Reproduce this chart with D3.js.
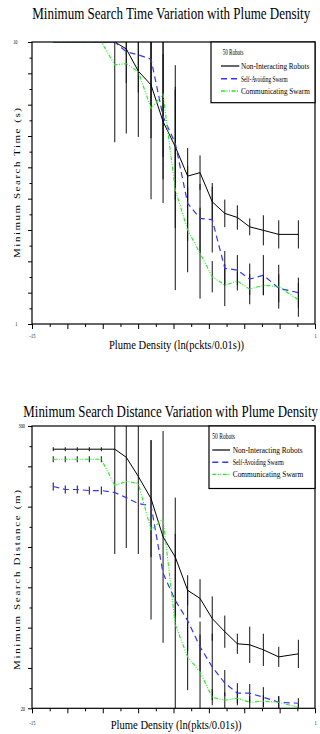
<!DOCTYPE html>
<html>
<head>
<meta charset="utf-8">
<script src="https://cdn.jsdelivr.net/npm/d3@7"></script>
<style>
  html, body { margin: 0; padding: 0; background: #fff; }
  svg { display: block; font-family: "Liberation Serif", "Times New Roman", serif; }
</style>
</head>
<body>
<svg id="chart" width="320" height="734"></svg>
<script>
// Plume density, ln(packets/0.01s) - same sample points in both panels
const plumeDensity = [-13.8, -13.12, -12.44, -11.76, -11.08, -10.32, -9.67, -8.99, -8.27, -7.59,
  -6.9, -6.2, -5.5, -4.81, -4.1, -3.39, -2.69, -1.92, -1.05, 0.06];

const seriesNames = ['Non-Interacting Robots', 'Self-Avoiding Swarm', 'Communicating Swarm'];

// Minimum search time (s)
const timeNonInteracting = [10, 10, 10, 10, 10, 10, 9.78, 9.07, 8.63, 7.46, 6.66, 5.72, 5.83, 4.9, 4.53, 4.4, 4.1, 3.99, 3.86, 3.86];
const timeNonInteractingErr = [0, 0, 0, 0, 0, 3.2, 2.7, 2.1, 1.7, 2.6, 2.6, 0.9, 0.55, 0.6, 0.44, 0.39, 0.27, 0.48, 0.45, 0.45];
const timeSelfAvoiding = [10, 10, 10, 10, 10, 10, 9.69, 9.59, 9.45, 7.62, 6.77, 4.85, 4.37, 4.33, 2.78, 2.72, 2.43, 2.56, 2.14, 2.0];
const timeSelfAvoidingErr = [0, 0, 0, 0, 0, 0, 1.0, 1.2, 1.5, 2.0, 1.8, 1.2, 1.1, 1.05, 0.55, 0.48, 0.5, 0.64, 0.45, 0.48];
const timeCommunicating = [10, 10, 10, 10, 10, 9.27, 9.31, 9.05, 7.88, 8.33, 5.28, 4.0, 3.26, 2.51, 2.24, 2.37, 2.11, 2.24, 2.19, 1.77];
const timeCommunicatingErr = [0, 0, 0, 0, 0, 0, 0, 0, 2.9, 2.0, 3.2, 1.35, 1.45, 0.5, 0.67, 0.3, 0.48, 0.32, 0.7, 0.54];

// Minimum search distance (m)
const distNonInteracting = [277, 277, 277, 277, 277, 277, 269, 250, 228, 190, 170, 137, 129, 109, 96, 84, 83, 78, 71, 74];
const distNonInteractingErr = [2, 2, 2, 2, 2, 104, 90, 77, 58, 105, 59, 15, 19, 22, 16, 10, 18, 16, 10, 14];
const distSelfAvoiding = [240, 237, 237, 236, 236, 234, 229, 223, 221, 154, 127, 107, 81, 61, 45, 35, 35, 31, 26, 25];
const distSelfAvoidingErr = [4, 4, 4, 4, 4, 0, 0, 0, 0, 0, 0, 30, 25, 33, 13, 10, 9, 10, 6, 5];
const distCommunicating = [267, 267, 267, 267, 267, 241, 245, 243, 197, 208, 103, 71, 56, 31, 28, 30, 26, 27, 26, 21];
const distCommunicatingErr = [3, 3, 3, 3, 3, 0, 0, 0, 89, 0, 90, 33, 37, 8, 8, 7, 6, 6, 6, 3];

// Axis ticks and the few labelled ones
const xDomain = [-15, 1];
const xTickLabels = [-15, 1];
const timeDomain = [1, 10];
const timeTickLabels = [1, 10];
const distDomain = [20, 300];
const distTickLabels = [20, 300];

const svg = d3.select('#chart');

const styles = [
  { color: '#000000', dash: null, width: 1 },
  { color: '#3535f5', dash: '6,4', width: 1.2 },
  { color: '#25e825', dash: '4,1.5,1,1.5,1,1.5', width: 1.1 }
];

// the source figure is squashed sideways, so text is scaled to the measured width
function squeezed(g, str, x, y, size, width) {
  const t = g.append('text')
    .attr('x', 0)
    .attr('y', 0)
    .style('font-size', size + 'px')
    .style('fill', '#000')
    .text(str);
  const natural = t.node().getComputedTextLength();
  t.attr('transform', `translate(${x},${y}) scale(${width / natural},1)`);
  return t;
}

function squeezeTicks(sel, k) {
  sel.selectAll('text').each(function () {
    if (!this.textContent) return;
    const t = d3.select(this);
    t.attr('x', (+t.attr('x') || 0) / k).attr('transform', `scale(${k},1)`);
  });
}

function drawPanel(cfg) {
  const x = d3.scaleLinear().domain(xDomain).range([32, 315]);
  const y = d3.scaleLinear().domain(cfg.domain).range([cfg.bottom, cfg.top]);
  const g = svg.append('g');

  // title
  squeezed(g, cfg.title, cfg.titleX, cfg.titleY, 16, cfg.titleW);

  // clip
  g.append('clipPath').attr('id', cfg.id + '-clip')
    .append('rect')
    .attr('x', 32).attr('y', cfg.top)
    .attr('width', 283).attr('height', cfg.bottom - cfg.top);

  // X axis: minor + major ticks
  g.append('g')
    .attr('transform', `translate(0,${cfg.bottom})`)
    .call(d3.axisBottom(x).tickValues(d3.range(-14, 1, 2)).tickSize(3).tickSizeOuter(0).tickFormat(''))
    .call(a => a.select('.domain').remove());

  const xAxis = g.append('g')
    .attr('transform', `translate(0,${cfg.bottom})`)
    .call(d3.axisBottom(x).tickValues(d3.range(-15, 2, 2)).tickSize(5).tickSizeOuter(0)
      .tickPadding(cfg.xPad)
      .tickFormat(d => xTickLabels.includes(d) ? String(d) : ''))
    .call(a => a.select('.domain').remove());
  xAxis.selectAll('text').style('font-size', '6px').style('font-family', 'Liberation Serif');
  squeezeTicks(xAxis, 0.72);

  // Y axis
  g.append('g')
    .attr('transform', 'translate(32,0)')
    .call(d3.axisLeft(y).tickValues(cfg.minorTicks).tickSize(2.5).tickSizeOuter(0).tickFormat(''))
    .call(a => a.select('.domain').remove());

  const yAxis = g.append('g')
    .attr('transform', 'translate(32,0)')
    .call(d3.axisLeft(y).tickValues(cfg.majorTicks).tickSize(4).tickSizeOuter(0)
      .tickPadding(cfg.yPad)
      .tickFormat(d => cfg.tickLabels.includes(d) ? String(d) : ''))
    .call(a => a.select('.domain').remove());
  yAxis.selectAll('text').style('font-size', '6px').style('font-family', 'Liberation Serif');
  squeezeTicks(yAxis, 0.72);

  // axis labels
  squeezed(g, cfg.xLabel, cfg.xLabelX, cfg.xLabelY, 13.5, cfg.xLabelW);
  g.append('text')
    .attr('text-anchor', 'middle')
    .attr('transform', `translate(20.3,${cfg.yLabelC}) scale(0.75,1) rotate(-90)`)
    .attr('textLength', cfg.yLabelW)
    .attr('lengthAdjust', 'spacing')
    .style('font-size', '11px')
    .style('fill', '#000')
    .text(cfg.yLabel);

  const plot = g.append('g').attr('clip-path', `url(#${cfg.id}-clip)`);

  // error bars
  cfg.series.forEach((s) => {
    plot.append('g')
      .selectAll('line')
      .data(s.values.map((v, i) => ({ x: plumeDensity[i], v, e: s.err[i] })).filter(d => d.e > 0))
      .enter()
      .append('line')
      .attr('x1', d => x(d.x))
      .attr('x2', d => x(d.x))
      .attr('y1', d => y(d.v - d.e))
      .attr('y2', d => y(d.v + d.e))
      .attr('stroke', '#111')
      .attr('stroke-width', 1);
  });

  // lines
  const line = d3.line()
    .x((d, i) => x(plumeDensity[i]))
    .y(d => y(d));

  cfg.series.forEach((s, k) => {
    plot.append('path')
      .datum(s.values)
      .attr('fill', 'none')
      .attr('stroke', styles[k].color)
      .attr('stroke-width', styles[k].width)
      .attr('stroke-dasharray', styles[k].dash)
      .attr('d', line);
  });

  // frame
  g.append('rect')
    .attr('x', 32).attr('y', cfg.top)
    .attr('width', 283).attr('height', cfg.bottom - cfg.top)
    .attr('fill', 'none')
    .attr('stroke', '#000')
    .attr('stroke-width', 1.2);

  // legend
  const lg = cfg.legend;
  g.append('rect')
    .attr('x', lg.x).attr('y', cfg.top)
    .attr('width', 315 - lg.x).attr('height', lg.bottom - cfg.top)
    .attr('fill', '#fff')
    .attr('stroke', '#000')
    .attr('stroke-width', 1.2);

  squeezed(g, '50 Robots', lg.textX0, lg.rows[0] + 3, 8.5, lg.headW);
  seriesNames.forEach((name, k) => {
    const yy = lg.rows[k + 1];
    g.append('line')
      .attr('x1', lg.lineX0).attr('x2', lg.lineX1)
      .attr('y1', yy).attr('y2', yy)
      .attr('stroke', styles[k].color)
      .attr('stroke-width', styles[k].width + 0.2)
      .attr('stroke-dasharray', styles[k].dash);
    squeezed(g, name, lg.textX, yy + 3, 8.5, lg.widths[k]);
  });
}

drawPanel({
  id: 'time',
  top: 42, bottom: 324,
  domain: timeDomain,
  majorTicks: d3.range(1, 10.01, 1),
  minorTicks: d3.range(1.5, 10, 1),
  tickLabels: timeTickLabels,
  xPad: 4.5, yPad: 10.5,
  title: 'Minimum Search Time Variation with Plume Density',
  titleX: 32.3, titleY: 19.3, titleW: 278,
  xLabel: 'Plume Density (ln(pckts/0.01s))',
  xLabelX: 109, xLabelY: 349.3, xLabelW: 135,
  yLabel: 'Minimum Search Time (s)', yLabelC: 183, yLabelW: 150,
  series: [
    { values: timeNonInteracting, err: timeNonInteractingErr },
    { values: timeSelfAvoiding, err: timeSelfAvoidingErr },
    { values: timeCommunicating, err: timeCommunicatingErr }
  ],
  legend: {
    x: 211, bottom: 102.7,
    textX0: 222.7, headW: 20.7,
    lineX0: 221, lineX1: 239.3, textX: 241,
    rows: [51.7, 66, 78.7, 91],
    widths: [68.3, 46.7, 69]
  }
});

drawPanel({
  id: 'dist',
  top: 426, bottom: 708.3,
  domain: distDomain,
  majorTicks: d3.range(20, 301, 40),
  minorTicks: d3.range(40, 300, 40),
  tickLabels: distTickLabels,
  xPad: 7.5, yPad: 3,
  title: 'Minimum Search Distance Variation with Plume Density',
  titleX: 23.3, titleY: 416.5, titleW: 295,
  xLabel: 'Plume Density (ln(pkts/0.01s))',
  xLabelX: 110.7, xLabelY: 729.3, xLabelW: 131,
  yLabel: 'Minimum Search Distance (m)', yLabelC: 580, yLabelW: 180,
  series: [
    { values: distNonInteracting, err: distNonInteractingErr },
    { values: distSelfAvoiding, err: distSelfAvoidingErr },
    { values: distCommunicating, err: distCommunicatingErr }
  ],
  legend: {
    x: 209, bottom: 488.5,
    textX0: 212.3, headW: 22.7,
    lineX0: 212.3, lineX1: 230, textX: 232.7,
    rows: [435.7, 450, 462.3, 474.3],
    widths: [70, 51.3, 70.6]
  }
});
</script>
</body>
</html>
